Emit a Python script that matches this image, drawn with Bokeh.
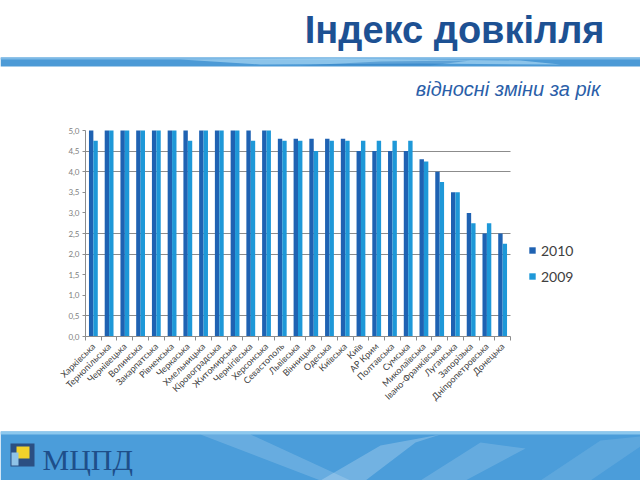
from bokeh.plotting import figure
from bokeh.models import (ColumnDataSource, Range1d, FixedTicker, Label, Legend, LegendItem)
from bokeh.transform import dodge
from bokeh.embed import file_html
from bokeh.resources import INLINE
import math

categories = ["Харківська", "Тернопільська", "Чернівецька", "Волинська", "Закарпатська",
              "Рівненська", "Черкаська", "Хмельницька", "Кіровоградська", "Житомирська",
              "Чернігівська", "Херсонська", "Севастополь", "Львівська", "Вінницька",
              "Одеська", "Київська", "Київ", "АР Крим", "Полтавська", "Сумська",
              "Миколаївська", "Івано-Франківська", "Луганська", "Запорізька",
              "Дніпропетровська", "Донецька"]
v2010 = [5.0, 5.0, 5.0, 5.0, 5.0, 5.0, 5.0, 5.0, 5.0, 5.0, 5.0, 5.0, 4.8, 4.8, 4.8,
         4.8, 4.8, 4.5, 4.5, 4.5, 4.5, 4.3, 4.0, 3.5, 3.0, 2.5, 2.5]
v2009 = [4.75, 5.0, 5.0, 5.0, 5.0, 5.0, 4.75, 5.0, 5.0, 5.0, 4.75, 5.0, 4.75, 4.75, 4.5,
         4.75, 4.75, 4.75, 4.75, 4.75, 4.75, 4.25, 3.75, 3.5, 2.75, 2.75, 2.25]
y_ticks = [0.0, 0.5, 1.0, 1.5, 2.0, 2.5, 3.0, 3.5, 4.0, 4.5, 5.0]
y_tick_labels = ["0,0", "0,5", "1,0", "1,5", "2,0", "2,5", "3,0", "3,5", "4,0", "4,5", "5,0"]
grid_ticks = [0.5, 2.0, 2.5, 4.0, 4.5]
series_names = ["2010", "2009"]

title_text = "Індекс довкілля"
subtitle_text = "відносні зміни за рік"
logo_text = "МЦПД"

C2010 = "#1F62B2"
C2009 = "#1E98D8"
GRID = "#8C8C8C"

W, H = 640, 480
FL, FR, FT, FB = 85, 510, 130, 336      # chart area in page pixels
YMAX = 5.0
n = len(categories)
cat_px = (FR - FL) / n                   # pixels per category
val_px = (FB - FT) / YMAX                # pixels per value unit

# numeric scales mapped so the chart area lands where it is on the slide
x_start = -0.5 - FL / cat_px
x_end = x_start + W / cat_px
y_start = -(H - FB) / val_px
y_end = FB / val_px

idx = list(range(n))
source = ColumnDataSource(dict(idx=idx, cat=categories, v2010=v2010, v2009=v2009))

p = figure(width=W, height=H, output_backend="svg", toolbar_location=None,
           x_range=Range1d(x_start, x_end), y_range=Range1d(y_start, y_end),
           min_border=0, min_border_left=0, min_border_right=0,
           min_border_top=0, min_border_bottom=0)
p.outline_line_color = None
p.background_fill_color = "white"
p.border_fill_color = "white"
p.extra_x_ranges = {"page": Range1d(0, W)}
p.extra_y_ranges = {"page": Range1d(H, 0)}

# ---------- decorations (page pixel coordinates) ----------
deco = dict(x_range_name="page", y_range_name="page", line_color=None)
# header band
p.quad(left=[0], right=[W], top=[57], bottom=[66], fill_color="#4C9AD6", **deco)
p.quad(left=[0], right=[W], top=[57], bottom=[59], fill_color="#7DB9E6", **deco)
p.patch(x=[180, 330, 520, 560, 420, 260], y=[59, 58, 60, 64, 63, 64],
        fill_color="#A8D6F2", fill_alpha=0.7, **deco)
p.patch(x=[300, 380, 470, 430], y=[65, 61, 60, 65],
        fill_color="#2F7FC4", fill_alpha=0.5, **deco)
# footer banner
p.quad(left=[0], right=[W], top=[431], bottom=[480], fill_color="#4B9DDA", **deco)
p.quad(left=[0], right=[W], top=[431], bottom=[434], fill_color="#8CC8EE", **deco)
p.patch(x=[200, 250, 350, 320], y=[434, 434, 480, 480], fill_color="white", fill_alpha=0.16, **deco)
p.patch(x=[320, 380, 440, 415, 365], y=[480, 445, 434, 442, 480], fill_color="white", fill_alpha=0.22, **deco)
p.patch(x=[420, 480, 525, 465], y=[480, 442, 448, 480], fill_color="white", fill_alpha=0.15, **deco)
p.patch(x=[540, 600, 640, 640, 590], y=[480, 440, 436, 446, 480], fill_color="white", fill_alpha=0.1, **deco)
# logo icon
p.quad(left=[10], right=[34], top=[443], bottom=[466], fill_color="#2B4F82", **deco)
p.quad(left=[16], right=[29], top=[446], bottom=[458], fill_color="#F2D22A", **deco)
p.quad(left=[11], right=[18], top=[452], bottom=[465], fill_color="#8FC3E8", **deco)

p.add_layout(Label(x=604, y=29, x_range_name="page", y_range_name="page",
                   text=title_text, text_align="right", text_baseline="alphabetic",
                   text_font="Liberation Sans", text_font_style="bold",
                   text_font_size="38px", text_color="#1D5193"))
p.add_layout(Label(x=600, y=88, x_range_name="page", y_range_name="page",
                   text=subtitle_text, text_align="right", text_baseline="alphabetic",
                   text_font="Liberation Sans", text_font_style="italic",
                   text_font_size="20px", text_color="#2A5EA8"))
p.add_layout(Label(x=42, y=459, x_range_name="page", y_range_name="page",
                   text=logo_text, text_align="left", text_baseline="alphabetic",
                   text_font="Liberation Serif", text_font_size="30px",
                   text_color="#1E4F8A"))

# ---------- bars ----------
r10 = p.vbar(x=dodge("idx", -0.14), top="v2010", width=0.28,
             source=source, fill_color=C2010, line_color=None)
r09 = p.vbar(x=dodge("idx", 0.14), top="v2009", width=0.28,
             source=source, fill_color=C2009, line_color=None)

# ---------- axes ----------
p.yaxis.fixed_location = -0.5
p.yaxis.bounds = (0, YMAX)
p.yaxis.ticker = FixedTicker(ticks=y_ticks)
p.yaxis.major_label_overrides = {t: l for t, l in zip(y_ticks, y_tick_labels)}
p.yaxis.axis_line_color = GRID
p.yaxis.major_tick_line_color = GRID
p.yaxis.major_tick_out = 3
p.yaxis.major_tick_in = 0
p.yaxis.minor_tick_line_color = None
p.yaxis.major_label_text_font = "Lato"
p.yaxis.major_label_text_font_size = "8px"
p.yaxis.major_label_text_color = "#808080"
p.yaxis.major_label_standoff = 3

p.xaxis.fixed_location = 0
p.xaxis.bounds = (-0.5, n - 0.5)
p.xaxis.ticker = FixedTicker(ticks=idx, minor_ticks=[i - 0.5 for i in range(n + 1)])
p.xaxis.major_label_overrides = {i: c for i, c in zip(idx, categories)}
p.xaxis.axis_line_color = GRID
p.xaxis.major_tick_line_color = None
p.xaxis.minor_tick_line_color = GRID
p.xaxis.minor_tick_out = 4
p.xaxis.minor_tick_in = 0
p.xaxis.major_label_orientation = math.pi / 4
p.xaxis.major_label_text_font = "Lato"
p.xaxis.major_label_text_font_size = "9px"
p.xaxis.major_label_text_color = "#404040"
p.xaxis.major_label_standoff = 2

p.xgrid.grid_line_color = None
try:
    p.ygrid.cross_bounds = (-0.5, n - 0.5)
    p.ygrid.ticker = FixedTicker(ticks=grid_ticks)
    p.ygrid.grid_line_color = GRID
    p.ygrid.grid_line_width = 1
except AttributeError:
    p.ygrid.grid_line_color = None
    p.segment(x0=[-0.5] * len(grid_ticks), x1=[n - 0.5] * len(grid_ticks),
              y0=grid_ticks, y1=grid_ticks, line_color=GRID, line_width=1, level="underlay")

legend = Legend(items=[LegendItem(label=series_names[0], renderers=[r10]),
                       LegendItem(label=series_names[1], renderers=[r09])],
                location=(528, H - 286), padding=0, margin=0, spacing=6,
                glyph_width=8, glyph_height=8, label_height=20,
                label_text_font="Lato", label_text_font_size="14px",
                label_text_color="#404040", label_standoff=5,
                border_line_color=None, background_fill_alpha=0)
p.add_layout(legend, "center")

open("out.html", "w").write(file_html(p, INLINE))
